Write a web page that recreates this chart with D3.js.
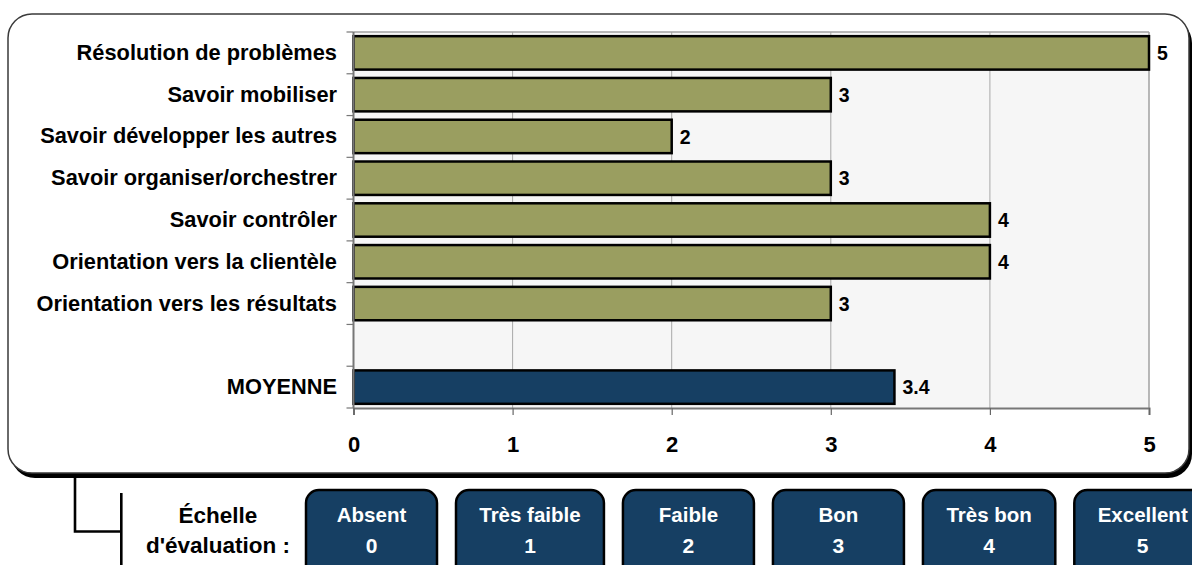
<!DOCTYPE html>
<html><head><meta charset="utf-8">
<script src="https://cdn.jsdelivr.net/npm/d3@7"></script>
<style>
html,body{margin:0;padding:0;background:#fff;}
svg{display:block;font-family:"Liberation Sans",Arial,sans-serif;font-weight:bold;}
</style></head>
<body>
<svg id="chart" width="1192" height="565"></svg>
<script>
// ---- data ----
const categories = ["Résolution de problèmes","Savoir mobiliser","Savoir développer les autres","Savoir organiser/orchestrer","Savoir contrôler","Orientation vers la clientèle","Orientation vers les résultats"];
const values = [5,3,2,3,4,4,3];
const averageLabel = "MOYENNE";
const averageValue = 3.4;
const xTicks = [0,1,2,3,4,5];
const scaleLabels = ["Absent","Très faible","Faible","Bon","Très bon","Excellent"];
const scaleValues = [0,1,2,3,4,5];
const scaleTitle = ["Échelle","d'évaluation :"];

// ---- layout ----
const svg = d3.select("#chart");
const plot = {left:353.5, right:1149, top:32, bottom:408};
const olive = "#9a9e60", navy = "#163f63";

// outer frame with shadow
const frame = {x:8, y:14, w:1181, h:459, r:24};
svg.append("rect").attr("x",frame.x+3).attr("y",frame.y+5).attr("width",frame.w).attr("height",frame.h)
  .attr("rx",frame.r).attr("fill","#000");
svg.append("rect").attr("x",frame.x).attr("y",frame.y).attr("width",frame.w).attr("height",frame.h)
  .attr("rx",frame.r).attr("fill","#fff").attr("stroke","#3a3a3a").attr("stroke-width",1.5);

const rows = categories.concat([" ", averageLabel]);
const rowVals = values.concat([null, averageValue]);

const x = d3.scaleLinear().domain([0,5]).range([plot.left, plot.right]);
const y = d3.scaleBand().domain(rows).range([plot.top, plot.bottom]).paddingInner(0.2).paddingOuter(0.1);
const step = y.step();

// plot background
svg.append("rect").attr("x",plot.left).attr("y",plot.top).attr("width",plot.right-plot.left)
  .attr("height",plot.bottom-plot.top).attr("fill","#f6f6f6");

// gridlines
svg.append("g").selectAll("line").data(xTicks.filter(t=>t>0 && t<5)).join("line")
  .attr("x1",d=>x(d)).attr("x2",d=>x(d)).attr("y1",plot.top).attr("y2",plot.bottom)
  .attr("stroke","#a8a8a8").attr("stroke-width",1);
// plot border top/right
svg.append("line").attr("x1",plot.left).attr("x2",plot.right).attr("y1",plot.top).attr("y2",plot.top)
  .attr("stroke","#a0a0a0").attr("stroke-width",1.5);
svg.append("line").attr("x1",plot.right).attr("x2",plot.right).attr("y1",plot.top).attr("y2",plot.bottom)
  .attr("stroke","#a0a0a0").attr("stroke-width",1.5);

// bars
svg.append("g").selectAll("rect").data(rows.map((r,i)=>({r,v:rowVals[i],i})).filter(d=>d.v!==null)).join("rect")
  .attr("x",x(0)).attr("y",d=>y(d.r)).attr("width",d=>x(d.v)-x(0)).attr("height",y.bandwidth())
  .attr("fill",d=>d.r===averageLabel?navy:olive).attr("stroke","#000").attr("stroke-width",2.5);

// value labels
svg.append("g").selectAll("text").data(rows.map((r,i)=>({r,v:rowVals[i]})).filter(d=>d.v!==null)).join("text")
  .attr("x",d=>x(d.v)+8).attr("y",d=>y(d.r)+y.bandwidth()/2).attr("dy","0.37em")
  .attr("font-size",19.5).attr("fill","#000").text(d=>d.v);

// x axis
const xAxis = d3.axisBottom(x).tickValues(xTicks).tickSize(7).tickPadding(21).tickFormat(d3.format("d"));
const gx = svg.append("g").attr("transform",`translate(0,${plot.bottom})`).call(xAxis);
gx.select(".domain").attr("stroke","#777").attr("stroke-width",2);
gx.selectAll(".tick line").attr("stroke","#666").attr("stroke-width",1.2);
gx.selectAll(".tick text").attr("font-size",22).attr("font-weight","bold").attr("fill","#000")
  .attr("font-family","'Liberation Sans',Arial,sans-serif");

// y axis line + ticks at band boundaries
const boundaries = rows.map(r=>y(r)-step*0.1).concat([plot.bottom]);
svg.append("line").attr("x1",plot.left).attr("x2",plot.left).attr("y1",plot.top).attr("y2",plot.bottom)
  .attr("stroke","#777").attr("stroke-width",2);
svg.append("g").selectAll("line").data(boundaries).join("line")
  .attr("x1",plot.left-7).attr("x2",plot.left).attr("y1",d=>d).attr("y2",d=>d)
  .attr("stroke","#777").attr("stroke-width",1.2);

// category labels
svg.append("g").selectAll("text").data(rows.filter(r=>r.trim()!=="")).join("text")
  .attr("x",plot.left-16.5).attr("y",d=>y(d)+y.bandwidth()/2).attr("dy","0.32em")
  .attr("text-anchor","end").attr("font-size",21.8).attr("fill","#000").text(d=>d);

// connector lines
svg.append("path").attr("d","M75,477 V531.5 H121.3").attr("fill","none").attr("stroke","#000").attr("stroke-width",2.6);
svg.append("line").attr("x1",121.3).attr("x2",121.3).attr("y1",493).attr("y2",565).attr("stroke","#000").attr("stroke-width",2.6);

// scale title
svg.append("g").selectAll("text").data(scaleTitle).join("text")
  .attr("x",218).attr("y",(d,i)=>523+i*30).attr("text-anchor","middle").attr("font-size",22.5)
  .attr("fill","#000").text(d=>d);

// scale boxes
const measure = svg.append("text").attr("font-size",20).attr("visibility","hidden");
let bx = 306;
const boxes = scaleLabels.map((lab,i)=>{
  measure.text(lab);
  const w = Math.max(131, measure.node().getComputedTextLength()+49);
  const b = {lab, val:scaleValues[i], x:bx, w};
  bx += w + 19;
  return b;
});
measure.remove();
const gb = svg.append("g").selectAll("g").data(boxes).join("g");
gb.append("rect").attr("x",d=>d.x).attr("y",490).attr("width",d=>d.w).attr("height",90).attr("rx",13)
  .attr("fill",navy).attr("stroke","#000").attr("stroke-width",2.5);
gb.append("text").attr("x",d=>d.x+d.w/2).attr("y",522).attr("text-anchor","middle").attr("font-size",20.5)
  .attr("fill","#fff").text(d=>d.lab);
gb.append("text").attr("x",d=>d.x+d.w/2).attr("y",553).attr("text-anchor","middle").attr("font-size",21)
  .attr("fill","#fff").text(d=>d.val);
</script>
</body></html>
